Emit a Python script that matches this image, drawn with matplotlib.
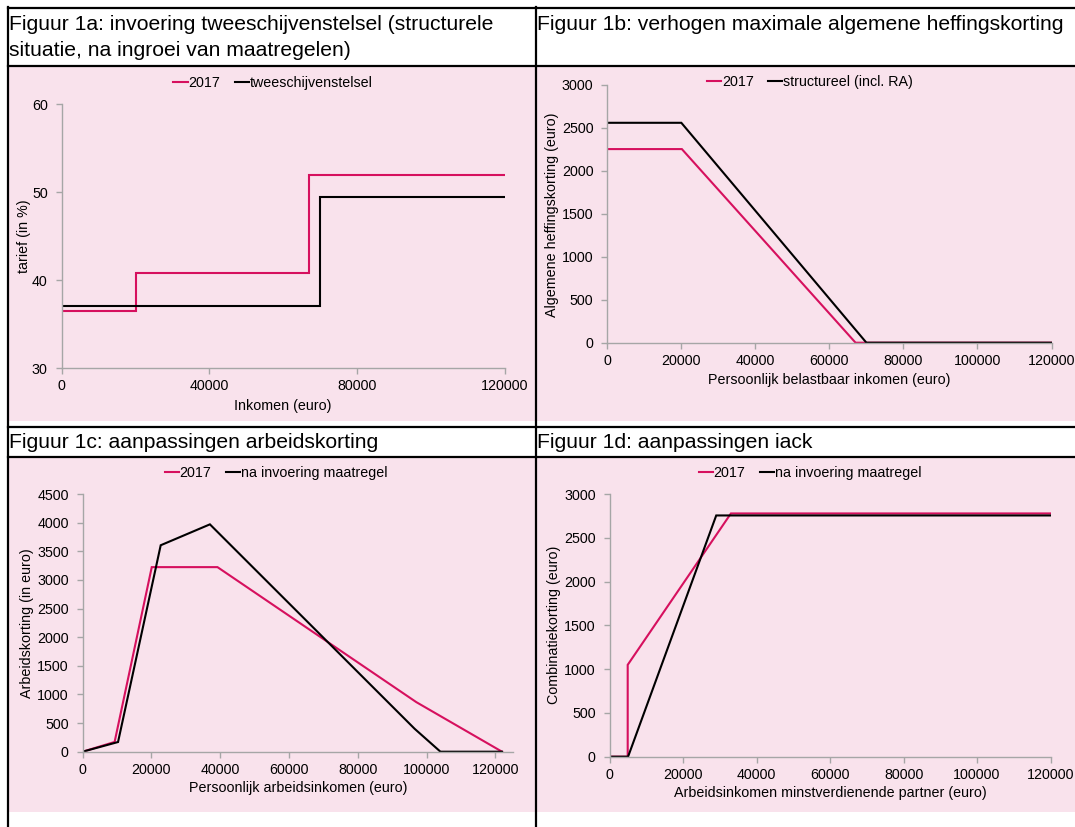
import matplotlib
matplotlib.use("Agg")
import matplotlib.pyplot as plt
from matplotlib.lines import Line2D
from matplotlib.patches import Rectangle

plt.rcParams['font.family'] = ['Liberation Sans', 'DejaVu Sans']

# figuur 1a: tarieven
inkomen_1a_2017 = [0, 20142, 20142, 67072, 67072, 120000]
tarief_2017 = [36.55, 36.55, 40.8, 40.8, 52.0, 52.0]
inkomen_1a_nieuw = [0, 70000, 70000, 120000]
tarief_nieuw = [37.05, 37.05, 49.5, 49.5]

# figuur 1b: algemene heffingskorting
inkomen_1b_2017 = [0, 20142, 67068, 120000]
ahk_2017 = [2254, 2254, 0, 0]
inkomen_1b_nieuw = [0, 20000, 70000, 120000]
ahk_nieuw = [2560, 2560, 0, 0]

# figuur 1c: arbeidskorting
inkomen_1c_2017 = [0, 9300, 20100, 39200, 97000, 121900]
ak_2017 = [0, 170, 3223, 3223, 865, 0]
inkomen_1c_nieuw = [0, 10300, 22700, 37000, 96500, 104000, 121900]
ak_nieuw = [0, 169, 3605, 3970, 400, 0, 0]

# figuur 1d: iack
inkomen_1d_2017 = [0, 4900, 4900, 33000, 120000]
iack_2017 = [0, 0, 1049, 2778, 2778]
inkomen_1d_nieuw = [0, 5000, 29000, 120000]
iack_nieuw = [0, 0, 2755, 2755]

W, H = 1075, 827
PINK = '#D6105E'
BG = '#F9E2EC'
GRID = '#A6A6A6'
FS = 10.3

fig = plt.figure(figsize=(W / 100, H / 100), dpi=100)


def fx(x):
    return x / W


def fy(y):
    return 1 - y / H


# roze achtergronden
for (x0, y0, x1, y1) in [(9, 67, 535, 421), (537, 67, 1075, 421),
                         (9, 458, 535, 812), (537, 458, 1075, 812)]:
    fig.patches.append(Rectangle((fx(x0), fy(y1)), fx(x1) - fx(x0), fy(y0) - fy(y1),
                                 transform=fig.transFigure, facecolor=BG,
                                 edgecolor='none', zorder=-2))

# tabelranden
for (x0, y0, x1, y1) in [(8, 8, 1075, 8), (8, 66, 1075, 66), (8, 427, 1075, 427),
                         (8, 457, 1075, 457), (8, 7, 8, 827), (536, 7, 536, 827)]:
    fig.lines.append(Line2D([fx(x0), fx(x1)], [fy(y0), fy(y1)], transform=fig.transFigure,
                            color='black', lw=1.6, zorder=5))

# titels
TFS = 15.2
fig.text(fx(9), fy(29.5), 'Figuur 1a: invoering tweeschijvenstelsel (structurele',
         fontsize=TFS, va='baseline')
fig.text(fx(9), fy(56.5), 'situatie, na ingroei van maatregelen)', fontsize=TFS, va='baseline')
fig.text(fx(537), fy(29.5), 'Figuur 1b: verhogen maximale algemene heffingskorting',
         fontsize=TFS, va='baseline')
fig.text(fx(9), fy(448.5), 'Figuur 1c: aanpassingen arbeidskorting', fontsize=TFS, va='baseline')
fig.text(fx(537), fy(448.5), 'Figuur 1d: aanpassingen iack', fontsize=TFS, va='baseline')


def panel(rect, x1, y1, x2, y2, naam2, xlim, ylim, xticks, yticks,
          xlabel, ylabel, xlab_pos, ylab_pos, leg_pos):
    l, t, r, b = rect
    ax = fig.add_axes([fx(l), fy(b), fx(r) - fx(l), fy(t) - fy(b)])
    ax.patch.set_visible(False)
    ax.plot(x1, y1, color=PINK, lw=1.5, label='2017', solid_joinstyle='miter')
    ax.plot(x2, y2, color='black', lw=1.5, label=naam2, solid_joinstyle='miter')
    ax.set_xlim(*xlim)
    ax.set_ylim(*ylim)
    ax.set_xticks(xticks)
    ax.set_yticks(yticks)
    for s in ['top', 'right']:
        ax.spines[s].set_visible(False)
    for s in ['left', 'bottom']:
        ax.spines[s].set_color(GRID)
        ax.spines[s].set_linewidth(1.0)
    ax.tick_params(axis='both', colors=GRID, labelcolor='black', labelsize=FS,
                   length=4, width=1.0, direction='out')
    ax.tick_params(axis='x', pad=4)
    ax.tick_params(axis='y', pad=6)
    ax.set_xlabel(xlabel, fontsize=FS)
    ax.set_ylabel(ylabel, fontsize=FS)
    ax.xaxis.set_label_coords(fx(xlab_pos[0]), fy(xlab_pos[1]), transform=fig.transFigure)
    ax.yaxis.set_label_coords(fx(ylab_pos[0]), fy(ylab_pos[1]), transform=fig.transFigure)
    ax.xaxis.label.set_va('center')
    ax.yaxis.label.set_va('center')
    fig.legend(handles=ax.get_lines(), loc='center',
               bbox_to_anchor=(fx(leg_pos[0]), fy(leg_pos[1])), ncol=2, frameon=False,
               fontsize=FS, handlelength=1.0, handletextpad=0.05, columnspacing=1.0,
               borderaxespad=0, borderpad=0)
    return ax


panel((61.7, 104.3, 505, 368.3), inkomen_1a_2017, tarief_2017, inkomen_1a_nieuw, tarief_nieuw,
      'tweeschijvenstelsel', (0, 120000), (30, 60), [0, 40000, 80000, 120000],
      [30, 40, 50, 60], 'Inkomen (euro)', 'tarief (in %)', (283, 406), (24, 236), (273, 83))

panel((607.3, 85, 1051.5, 342.7), inkomen_1b_2017, ahk_2017, inkomen_1b_nieuw, ahk_nieuw,
      'structureel (incl. RA)', (0, 120000), (0, 3000), list(range(0, 120001, 20000)),
      list(range(0, 3001, 500)), 'Persoonlijk belastbaar inkomen (euro)',
      'Algemene heffingskorting (euro)', (829, 380), (552, 215), (810, 82))

panel((82.6, 494, 512.7, 751.7), inkomen_1c_2017, ak_2017, inkomen_1c_nieuw, ak_nieuw,
      'na invoering maatregel', (0, 125000), (0, 4500), list(range(0, 120001, 20000)),
      list(range(0, 4501, 500)), 'Persoonlijk arbeidsinkomen (euro)',
      'Arbeidskorting (in euro)', (298, 788), (27.5, 623), (276, 473))

panel((609.7, 494, 1050.5, 756.7), inkomen_1d_2017, iack_2017, inkomen_1d_nieuw, iack_nieuw,
      'na invoering maatregel', (0, 120000), (0, 3000), list(range(0, 120001, 20000)),
      list(range(0, 3001, 500)), 'Arbeidsinkomen minstverdienende partner (euro)',
      'Combinatiekorting (euro)', (830, 793), (554, 625), (810, 473))

fig.savefig('out.png', dpi=100, facecolor='white')
